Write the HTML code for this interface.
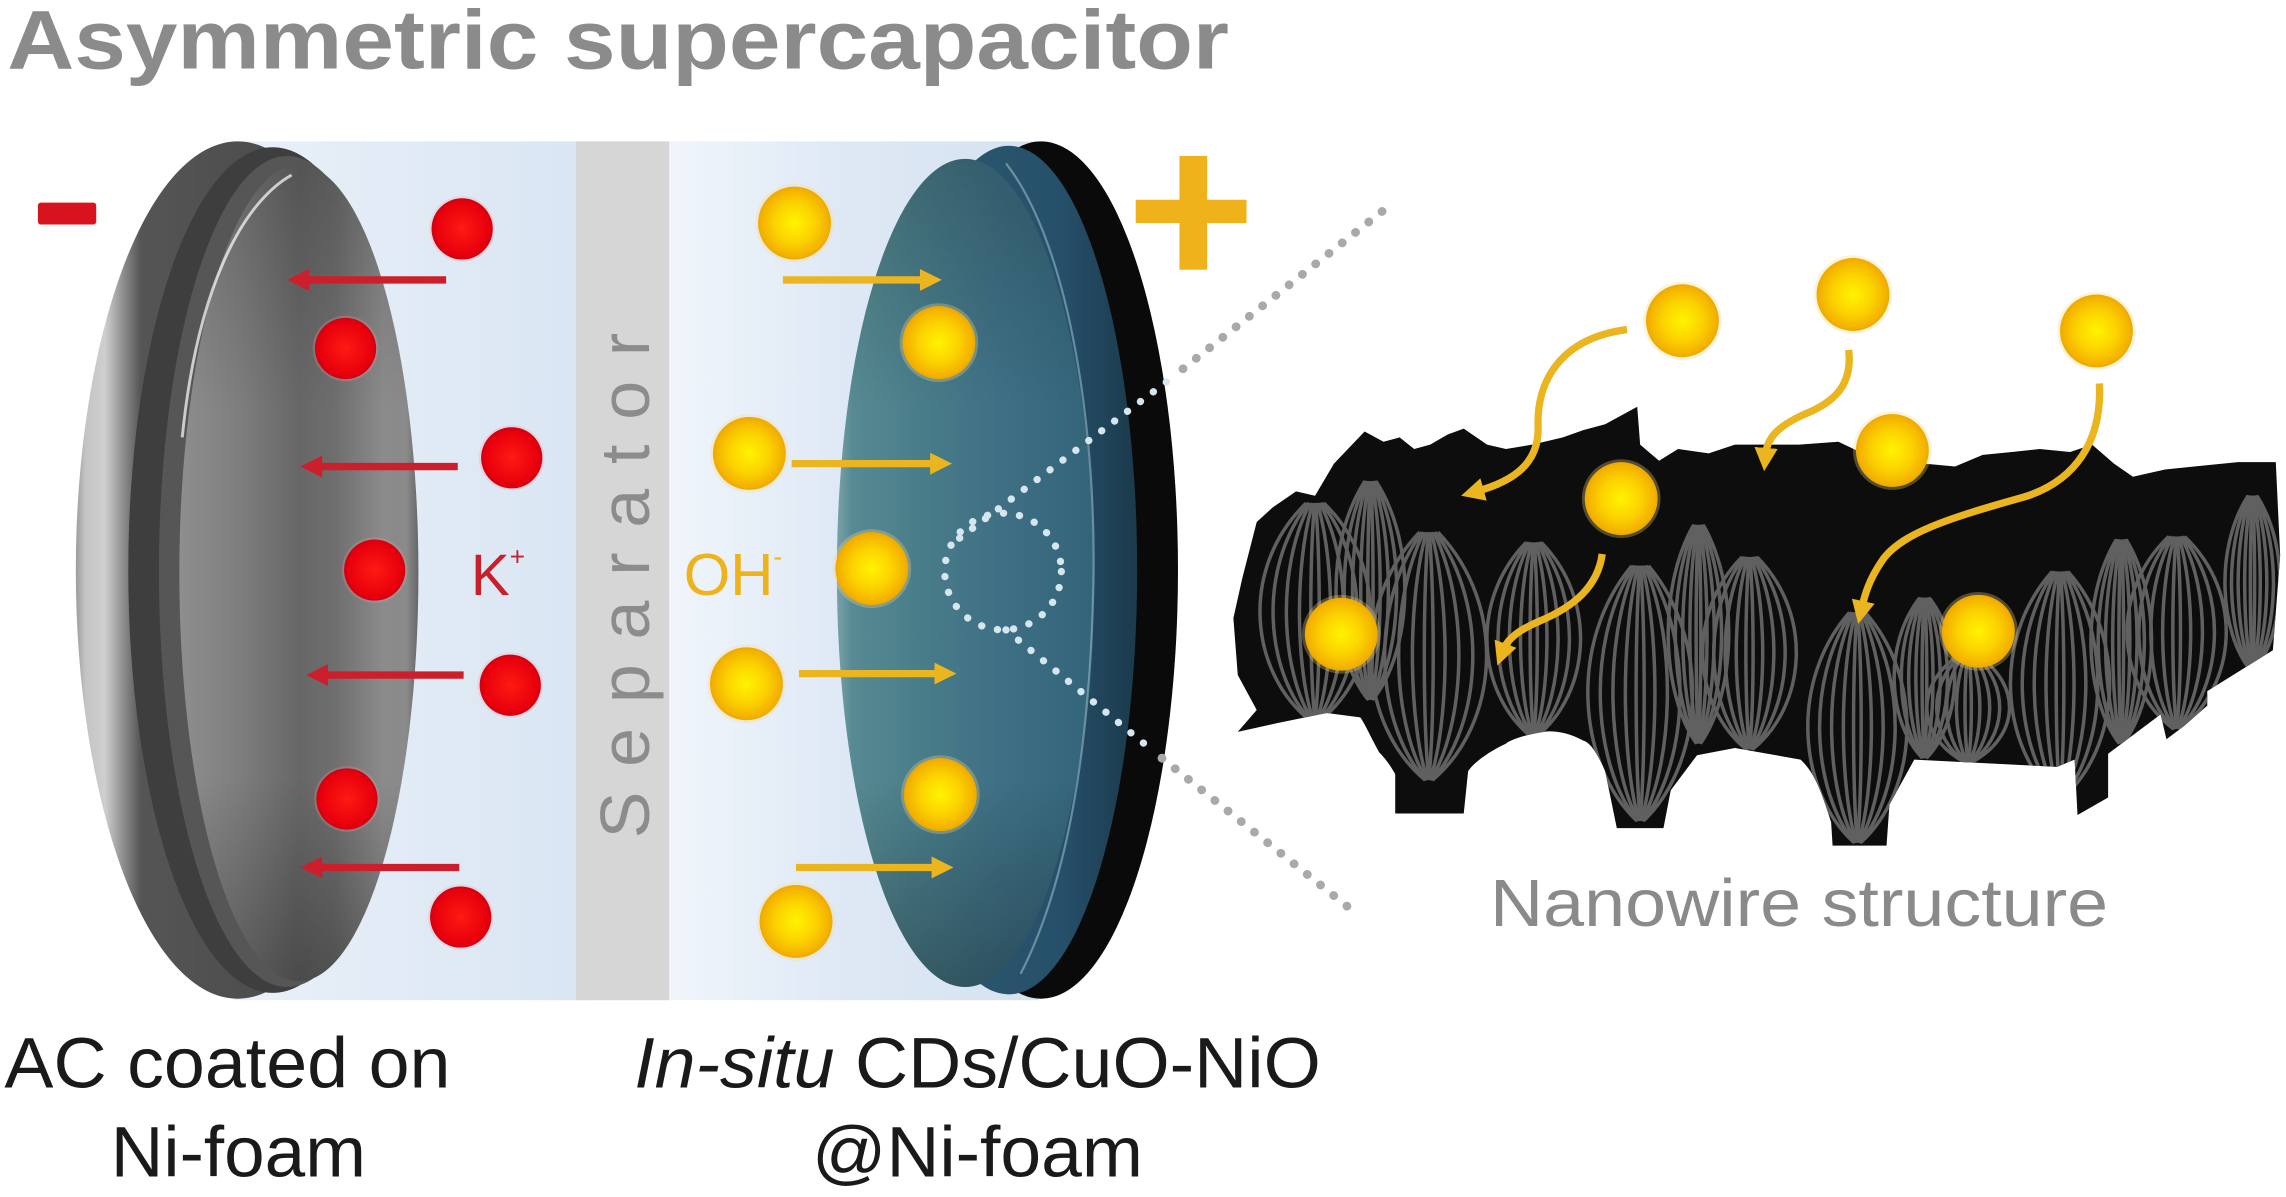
<!DOCTYPE html>
<html><head><meta charset="utf-8">
<style>html,body{margin:0;padding:0;background:#fff;}svg{display:block}</style>
</head><body>
<svg width="2286" height="1197" viewBox="0 0 1568 821" preserveAspectRatio="none" xmlns="http://www.w3.org/2000/svg" xmlns:xlink="http://www.w3.org/1999/xlink" font-family="'Liberation Sans', Arial, sans-serif">
<defs>
  <radialGradient id="gy" cx="0.5" cy="0.5" r="0.5">
    <stop offset="0" stop-color="#fff300"/>
    <stop offset="0.55" stop-color="#fcd200"/>
    <stop offset="0.9" stop-color="#f4b300"/>
    <stop offset="1" stop-color="#eda900"/>
  </radialGradient>
  <radialGradient id="gr" cx="0.5" cy="0.5" r="0.5">
    <stop offset="0" stop-color="#ff1a12"/>
    <stop offset="0.85" stop-color="#e8000c"/>
    <stop offset="1" stop-color="#d00012"/>
  </radialGradient>
  <g id="by"><circle r="27" fill="#f7dc8a" opacity="0.3"/><circle r="25" fill="url(#gy)"/></g>
  <g id="br"><circle r="22.5" fill="#f49a9a" opacity="0.25"/><circle r="21" fill="url(#gr)"/></g>

  <linearGradient id="gBody" gradientUnits="userSpaceOnUse" x1="160" y1="0" x2="712" y2="0">
    <stop offset="0" stop-color="#e9f0f8"/>
    <stop offset="0.42" stop-color="#dae6f3"/>
    <stop offset="0.545" stop-color="#f0f5fb"/>
    <stop offset="0.75" stop-color="#dfe9f5"/>
    <stop offset="1" stop-color="#d5e2f0"/>
  </linearGradient>
  <linearGradient id="gRim" gradientUnits="userSpaceOnUse" x1="52" y1="0" x2="274" y2="0">
    <stop offset="0" stop-color="#9c9c9c"/>
    <stop offset="0.03" stop-color="#c4c4c4"/>
    <stop offset="0.09" stop-color="#cfcfcf"/>
    <stop offset="0.15" stop-color="#8a8a8a"/>
    <stop offset="0.2" stop-color="#555"/>
    <stop offset="1" stop-color="#444"/>
  </linearGradient>
  <linearGradient id="gFaceL" gradientUnits="userSpaceOnUse" x1="123" y1="0" x2="287" y2="0">
    <stop offset="0" stop-color="#8e8e8e"/>
    <stop offset="0.25" stop-color="#7e7e7e"/>
    <stop offset="0.5" stop-color="#676767"/>
    <stop offset="0.65" stop-color="#6e6e6e"/>
    <stop offset="0.85" stop-color="#8b8b8b"/>
    <stop offset="0.95" stop-color="#8a8a8a"/>
    <stop offset="1" stop-color="#666"/>
  </linearGradient>
  <linearGradient id="gV" x1="0" y1="0" x2="0" y2="1">
    <stop offset="0" stop-color="#000" stop-opacity="0.18"/>
    <stop offset="0.3" stop-color="#000" stop-opacity="0"/>
    <stop offset="0.75" stop-color="#000" stop-opacity="0"/>
    <stop offset="1" stop-color="#000" stop-opacity="0.28"/>
  </linearGradient>
  <linearGradient id="gBand" gradientUnits="userSpaceOnUse" x1="604" y1="0" x2="780" y2="0">
    <stop offset="0" stop-color="#2e5b6e"/>
    <stop offset="0.7" stop-color="#26506a"/>
    <stop offset="1" stop-color="#1b3a4c"/>
  </linearGradient>
  <linearGradient id="gFaceR" gradientUnits="userSpaceOnUse" x1="574" y1="0" x2="750" y2="0">
    <stop offset="0" stop-color="#7aa0aa"/>
    <stop offset="0.06" stop-color="#578a92"/>
    <stop offset="0.3" stop-color="#4a7e8a"/>
    <stop offset="0.65" stop-color="#3e6f84"/>
    <stop offset="1" stop-color="#336479"/>
  </linearGradient>

  <marker id="mh" viewBox="0 0 10 10" refX="3" refY="5" markerWidth="16" markerHeight="16" markerUnits="userSpaceOnUse" orient="auto">
    <path d="M0,0 L10,5 L0,10 z" fill="#ebb520"/>
  </marker>

  <clipPath id="cm">
    <path id="massPath" d="M849,502 L862,487 L849,463 L846,424 L852,397 L862,358 L873,348 L889,337 L902,340 L915,318 L936,296 L949,303 L960,300 L970,308 L981,305 L993,298 L1004,294 L1020,305 L1033,308 L1051,305 L1072,300 L1086,295 L1101,291 L1112,285 L1123,279 L1125,305 L1138,316 L1151,308 L1172,311 L1190,305 L1211,305 L1234,305 L1261,303 L1280,312 L1320,318 L1341,320 L1360,312 L1380,310 L1399,308 L1420,310 L1435,305 L1450,318 L1463,327 L1485,322 L1505,320 L1535,317 L1561,317 L1564,381 L1559,446 L1514,474 L1514,484 L1498,498 L1486,507 L1482,490 L1446,517 L1446,547 L1425,559 L1423,521 L1411,526 L1313,521 L1296,552 L1294,580 L1257,580 L1256,564 C1250,545 1245,530 1235,521 L1190,513 L1164,518 L1146,542 L1141,568 L1109,568 L1101,529 C1095,515 1090,509 1086,508 C1075,502 1065,501 1059,502 C1045,504 1035,508 1033,510 C1020,516 1010,524 1007,529 L1004,558 L957,558 L957,531 C952,522 948,518 946,516 C940,505 936,496 933,492 L910,489 L876,496 Z"/>
  </clipPath>

  <g id="bd" fill="none" stroke="#606060" stroke-width="3.5">
    <path vector-effect="non-scaling-stroke" d="M-0.15,0 C-1.31,0.3 -1.13,0.78 -0.06,1"/>
    <path vector-effect="non-scaling-stroke" d="M-0.11,0 C-1.0,0.3 -0.86,0.78 -0.05,1"/>
    <path vector-effect="non-scaling-stroke" d="M-0.08,0 C-0.68,0.3 -0.59,0.78 -0.03,1"/>
    <path vector-effect="non-scaling-stroke" d="M-0.04,0 C-0.37,0.3 -0.32,0.78 -0.02,1"/>
    <path vector-effect="non-scaling-stroke" d="M-0.01,0 C-0.1,0.3 -0.09,0.78 0,1"/>
    <path vector-effect="non-scaling-stroke" d="M0.01,0 C0.1,0.3 0.09,0.78 0,1"/>
    <path vector-effect="non-scaling-stroke" d="M0.04,0 C0.37,0.3 0.32,0.78 0.02,1"/>
    <path vector-effect="non-scaling-stroke" d="M0.08,0 C0.68,0.3 0.59,0.78 0.03,1"/>
    <path vector-effect="non-scaling-stroke" d="M0.11,0 C1.0,0.3 0.86,0.78 0.05,1"/>
    <path vector-effect="non-scaling-stroke" d="M0.15,0 C1.31,0.3 1.13,0.78 0.06,1"/>
  </g>
</defs>

<rect width="1568" height="821" fill="#fff"/>

<!-- Title -->
<text x="5" y="47" font-size="57" font-weight="bold" fill="#8b8b8b" textLength="838" lengthAdjust="spacingAndGlyphs">Asymmetric supercapacitor</text>

<!-- body -->
<rect x="160" y="97" width="552" height="589" fill="url(#gBody)"/>
<rect x="395" y="97" width="64" height="589" fill="#d6d6d6"/>
<text transform="translate(445,575) rotate(-90)" font-size="48" fill="#8c8c8c" letter-spacing="17">Separator</text>

<!-- left electrode -->
<ellipse cx="163" cy="391" rx="111" ry="294" fill="url(#gRim)"/>
<ellipse cx="187" cy="391" rx="99" ry="290" fill="#3e3e3e"/>
<ellipse cx="197" cy="392" rx="88" ry="285" fill="#565656"/>
<ellipse cx="205" cy="393" rx="82" ry="280" fill="url(#gFaceL)"/>
<ellipse cx="205" cy="393" rx="82" ry="280" fill="url(#gV)"/>
<path d="M200,120 C165,140 135,200 125,300" fill="none" stroke="#fff" stroke-width="2" opacity="0.7"/>

<!-- right electrode -->
<ellipse cx="714" cy="391" rx="94" ry="294" fill="#0a0a0a"/>
<ellipse cx="692" cy="391" rx="88" ry="291" fill="url(#gBand)"/>
<ellipse cx="662" cy="393" rx="88" ry="284" fill="url(#gFaceR)"/>
<ellipse cx="662" cy="393" rx="88" ry="284" fill="url(#gV)"/>
<path d="M690,112 C735,170 752,300 750,400 C748,500 735,600 700,668" fill="none" stroke="#9cc5d2" stroke-width="1.5" opacity="0.55"/>

<!-- minus / plus -->
<rect x="26" y="139" width="40" height="15" rx="2" fill="#d7141e"/>
<rect x="809" y="107" width="19" height="78" fill="#efb21a"/>
<rect x="779" y="137" width="76" height="16" fill="#efb21a"/>

<!-- dotted zoom lines -->
<g fill="none" stroke-linecap="round">
  <path d="M948,145 L805,258" stroke="#a9a9a9" stroke-width="6" stroke-dasharray="0.1 11.5"/>
  <path d="M800,262 L657,370" stroke="#d6e6ee" stroke-width="5" stroke-dasharray="0.1 11"/>
  <circle cx="688" cy="392" r="40" stroke="#d6e6ee" stroke-width="5" stroke-dasharray="0.1 11"/>
  <path d="M690,432 L792,516" stroke="#d6e6ee" stroke-width="5" stroke-dasharray="0.1 11"/>
  <path d="M797,520 L932,628" stroke="#a9a9a9" stroke-width="6" stroke-dasharray="0.1 11.5"/>
</g>

<!-- red arrows -->
<g stroke="#cc1f2b" stroke-width="5" fill="#cc1f2b">
  <line x1="306" y1="192" x2="209" y2="192"/><polygon stroke="none" points="197,192 212,184.5 212,199.5"/>
  <line x1="314" y1="320" x2="218" y2="320"/><polygon stroke="none" points="206,320 221,312.5 221,327.5"/>
  <line x1="318" y1="463" x2="222" y2="463"/><polygon stroke="none" points="210,463 225,455.5 225,470.5"/>
  <line x1="315" y1="595" x2="218" y2="595"/><polygon stroke="none" points="206,595 221,587.5 221,602.5"/>
</g>
<!-- gold arrows -->
<g stroke="#ebb520" stroke-width="5" fill="#ebb520">
  <line x1="537" y1="192" x2="634" y2="192"/><polygon stroke="none" points="646,192 631,184.5 631,199.5"/>
  <line x1="543" y1="318" x2="641" y2="318"/><polygon stroke="none" points="653,318 638,310.5 638,325.5"/>
  <line x1="548" y1="462" x2="644" y2="462"/><polygon stroke="none" points="656,462 641,454.5 641,469.5"/>
  <line x1="546" y1="595" x2="642" y2="595"/><polygon stroke="none" points="654,595 639,587.5 639,602.5"/>
</g>

<!-- red ions -->
<use xlink:href="#br" x="317" y="157"/>
<use xlink:href="#br" x="237" y="239"/>
<use xlink:href="#br" x="351" y="314"/>
<use xlink:href="#br" x="257" y="391"/>
<use xlink:href="#br" x="350" y="470"/>
<use xlink:href="#br" x="238" y="548"/>
<use xlink:href="#br" x="316" y="629"/>

<!-- gold ions -->
<use xlink:href="#by" x="545" y="153"/>
<use xlink:href="#by" x="644" y="235"/>
<use xlink:href="#by" x="514" y="311"/>
<use xlink:href="#by" x="598" y="390"/>
<use xlink:href="#by" x="512" y="469"/>
<use xlink:href="#by" x="645" y="545"/>
<use xlink:href="#by" x="546" y="632"/>

<!-- ion labels -->
<text x="323" y="408" font-size="40" fill="#c8202a">K<tspan font-size="18" dy="-20">+</tspan></text>
<text x="469" y="408" font-size="41" fill="#efb21a">OH<tspan font-size="18" dy="-20">-</tspan></text>

<!-- nanowire mass -->
<use xlink:href="#massPath" fill="#0d0d0d"/>
<g clip-path="url(#cm)">
  <use xlink:href="#bd" transform="translate(902,345) scale(40,150)"/>
  <use xlink:href="#bd" transform="translate(940,330) scale(25,150)"/>
  <use xlink:href="#bd" transform="translate(980,365) scale(42,170)"/>
  <use xlink:href="#bd" transform="translate(1052,372) scale(34,133)"/>
  <use xlink:href="#bd" transform="translate(1125,388) scale(38,175)"/>
  <use xlink:href="#bd" transform="translate(1165,360) scale(22,150)"/>
  <use xlink:href="#bd" transform="translate(1200,382) scale(34,132)"/>
  <use xlink:href="#bd" transform="translate(1274,420) scale(36,158)"/>
  <use xlink:href="#bd" transform="translate(1320,410) scale(22,110)"/>
  <use xlink:href="#bd" transform="translate(1350,448) scale(30,75)"/>
  <use xlink:href="#bd" transform="translate(1413,392) scale(36,155)"/>
  <use xlink:href="#bd" transform="translate(1455,370) scale(22,140)"/>
  <use xlink:href="#bd" transform="translate(1493,368) scale(36,132)"/>
  <use xlink:href="#bd" transform="translate(1545,340) scale(20,120)"/>
</g>

<!-- curved arrows -->
<g fill="none" stroke="#ebb520" stroke-width="5" marker-end="url(#mh)">
  <path d="M1116,226 C1070,232 1054,262 1055,292 C1056,318 1038,330 1013,337"/>
  <path d="M1268,240 C1271,264 1258,276 1238,284 C1220,292 1212,300 1211,312"/>
  <path d="M1440,263 C1442,302 1424,330 1388,341 C1338,355 1302,366 1290,386 C1282,398 1279,408 1277,417"/>
  <path d="M1099,380 C1096,402 1080,416 1056,426 C1042,432 1034,438 1031,446"/>
</g>

<!-- nanowire ions -->
<use xlink:href="#by" x="1154" y="220"/>
<use xlink:href="#by" x="1271" y="202"/>
<use xlink:href="#by" x="1438" y="227"/>
<use xlink:href="#by" x="1298" y="309"/>
<use xlink:href="#by" x="1112" y="342"/>
<use xlink:href="#by" x="920" y="435"/>
<use xlink:href="#by" x="1357" y="433"/>

<text x="1022" y="635" font-size="46" fill="#8a8a8a" textLength="424" lengthAdjust="spacingAndGlyphs">Nanowire structure</text>

<!-- bottom labels -->
<g font-size="49" fill="#1a1a1a">
  <text x="3" y="746" textLength="306" lengthAdjust="spacingAndGlyphs">AC coated on</text>
  <text x="76" y="807" textLength="175" lengthAdjust="spacingAndGlyphs">Ni-foam</text>
  <text x="435" y="746" textLength="471" lengthAdjust="spacingAndGlyphs"><tspan font-style="italic">In-situ</tspan> CDs/CuO-NiO</text>
  <text x="557" y="807" textLength="227" lengthAdjust="spacingAndGlyphs">@Ni-foam</text>
</g>
</svg>
</body></html>
